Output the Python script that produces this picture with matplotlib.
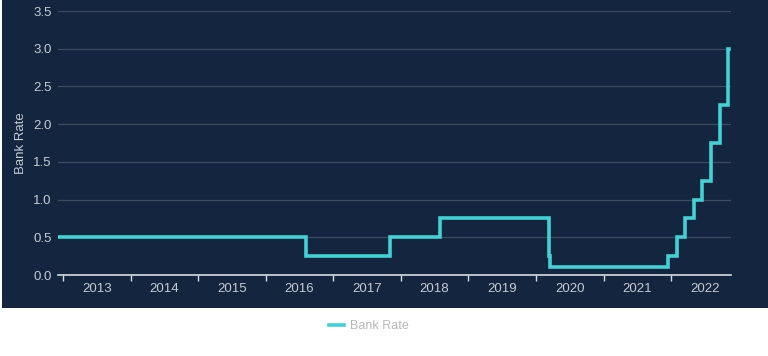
import numpy as np
import pandas as pd
import matplotlib
matplotlib.use("Agg")
import matplotlib.pyplot as plt
import matplotlib.dates as mdates
from matplotlib.patches import Rectangle

# Bank Rate changes (date from which the rate applies)
dates = ["2012-12-01", "2016-08-04", "2017-11-02", "2018-08-02", "2020-03-11",
         "2020-03-19", "2021-12-16", "2022-02-03", "2022-03-17", "2022-05-05",
         "2022-06-16", "2022-08-04", "2022-09-22", "2022-11-03", "2022-11-10"]
rates = [0.5, 0.25, 0.5, 0.75, 0.25, 0.1, 0.25, 0.5, 0.75, 1.0, 1.25, 1.75,
         2.25, 3.0, 3.0]
years = list(range(2013, 2023))
yticks = [0.0, 0.5, 1.0, 1.5, 2.0, 2.5, 3.0, 3.5]

bg = "#14263f"
line_col = "#43d1d3"
txt = "#c6cbd3"

plt.rcParams['font.family'] = ['Liberation Sans', 'DejaVu Sans']

fig = plt.figure(figsize=(7.68, 3.56), dpi=100)
fig.patch.set_facecolor("white")
fig.patches.append(Rectangle((0.003, 1 - 308/356), 0.997, 308/356, transform=fig.transFigure,
                             facecolor=bg, edgecolor="none", zorder=-5))

ax = fig.add_axes([58/768, 1 - 275/356, (731 - 58)/768, (275 - 11)/356])
ax.set_zorder(2)
ax.set_facecolor(bg)

x = pd.to_datetime(dates)
ax.plot(x, rates, drawstyle="steps-post", color=line_col, lw=2.6, label="Bank Rate",
        solid_joinstyle="miter", zorder=3)

ax.set_xlim(pd.Timestamp("2012-12-05"), pd.Timestamp("2022-11-20"))
ax.set_ylim(0, 3.5)
ax.set_yticks(yticks)
ax.set_yticklabels([f"{v:.1f}" for v in yticks])
ax.grid(axis="y", color="#3c4b62", lw=0.9)
ax.set_axisbelow(True)

# year ticks at boundaries, labels at mid-year
ax.set_xticks([pd.Timestamp(f"{y}-01-01") for y in years])
ax.set_xticklabels([])
ax.set_xticks([pd.Timestamp(f"{y}-07-02") for y in years], minor=True)
ax.set_xticklabels([str(y) for y in years], minor=True)
ax.tick_params(axis="x", which="major", length=4, color="#d8dce2", width=1)
ax.tick_params(axis="x", which="minor", length=0, pad=6, labelsize=9.5, labelcolor=txt)
ax.tick_params(axis="y", length=0, pad=4.5, labelsize=9.5, labelcolor=txt)

for s in ["top", "right", "left"]:
    ax.spines[s].set_visible(False)
ax.spines["bottom"].set_color("#d8dce2")
ax.spines["bottom"].set_linewidth(1.2)

ax.set_ylabel("Bank Rate", color=txt, fontsize=9.5)
ax.yaxis.set_label_coords((27 - 58) / 673, 0.5)

fig.legend(loc="center", bbox_to_anchor=(0.48, 1 - 326/356), frameon=False,
           fontsize=9, labelcolor="#b8b8b8", handlelength=1.2, handletextpad=0.5)

fig.savefig("out.png", dpi=100, facecolor=fig.get_facecolor())
